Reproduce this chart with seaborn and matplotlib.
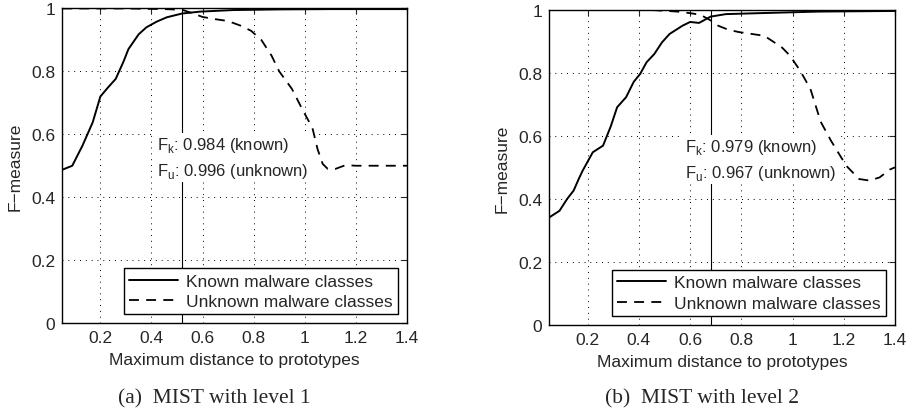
import numpy as np
import pandas as pd
import matplotlib
matplotlib.use("Agg")
import matplotlib.pyplot as plt
import seaborn as sns

# level 1 curves
l1_known_x = [0.05, 0.09, 0.13, 0.17, 0.2, 0.23, 0.26, 0.29, 0.31, 0.35, 0.38, 0.42, 0.46, 0.52, 0.59, 0.72, 0.9, 1.1, 1.4]
l1_known_y = [0.487, 0.50, 0.564, 0.638, 0.72, 0.749, 0.776, 0.83, 0.871, 0.918, 0.94, 0.958, 0.972, 0.984, 0.99, 0.995, 0.997, 0.998, 0.998]
l1_unknown_x = [0.05, 0.3, 0.45, 0.52, 0.56, 0.6, 0.65, 0.7, 0.75, 0.79, 0.83, 0.87, 0.9, 0.95, 0.99, 1.03,
                1.05, 1.07, 1.09, 1.12, 1.16, 1.2, 1.4]
l1_unknown_y = [1.0, 1.0, 0.998, 0.996, 0.985, 0.973, 0.966, 0.96, 0.945, 0.929, 0.9, 0.85, 0.80, 0.744, 0.68, 0.62,
                0.553, 0.506, 0.49, 0.49, 0.502, 0.50, 0.50]
l1_thresh = 0.52

# level 2 curves
l2_known_x = [0.05, 0.09, 0.12, 0.145, 0.165, 0.18, 0.22, 0.26, 0.29, 0.315, 0.35, 0.38, 0.405, 0.43, 0.46, 0.49,
              0.52, 0.57, 0.6, 0.635, 0.68, 0.74, 0.87, 1.1, 1.4]
l2_known_y = [0.341, 0.362, 0.40, 0.426, 0.463, 0.489, 0.548, 0.569, 0.63, 0.691, 0.723, 0.772, 0.797, 0.834, 0.86,
              0.897, 0.924, 0.95, 0.962, 0.959, 0.979, 0.987, 0.99, 0.995, 0.997]
l2_unknown_x = [0.05, 0.45, 0.55, 0.6, 0.64, 0.68, 0.71, 0.75, 0.79, 0.84, 0.89, 0.92, 0.96, 0.99, 1.03, 1.07,
                1.11, 1.15, 1.21, 1.26, 1.3, 1.34, 1.38, 1.4]
l2_unknown_y = [1.0, 1.0, 0.995, 0.99, 0.985, 0.967, 0.95, 0.937, 0.93, 0.924, 0.918, 0.902, 0.88, 0.855, 0.807,
                0.749, 0.645, 0.585, 0.505, 0.463, 0.458, 0.468, 0.493, 0.50]
l2_thresh = 0.68

annot = ["F$_\\mathrm{k}$: 0.984 (known)\nF$_\\mathrm{u}$: 0.996 (unknown)",
         "F$_\\mathrm{k}$: 0.979 (known)\nF$_\\mathrm{u}$: 0.967 (unknown)"]
captions = ["(a)  MIST with level 1", "(b)  MIST with level 2"]
xticks = [0.2, 0.4, 0.6, 0.8, 1, 1.2, 1.4]
yticks = [0, 0.2, 0.4, 0.6, 0.8, 1]

sns.set_style("white")
plt.rcParams["font.family"] = ["Liberation Sans", "DejaVu Sans"]
plt.rcParams["mathtext.fontset"] = "custom"
plt.rcParams["mathtext.rm"] = "Liberation Sans"
plt.rcParams["font.size"] = 12

fig = plt.figure(figsize=(9.07, 4.14), dpi=100)
ax1 = fig.add_axes([0.0684, 0.2174, 0.3803, 0.7597])
ax2 = fig.add_axes([0.6056, 0.2133, 0.3811, 0.7601])

panels = [
    (ax1, l1_known_x, l1_known_y, l1_unknown_x, l1_unknown_y, l1_thresh),
    (ax2, l2_known_x, l2_known_y, l2_unknown_x, l2_unknown_y, l2_thresh),
]

for i, (ax, kx, ky, ux, uy, th) in enumerate(panels):
    ax.axvline(th, color="k", lw=0.8, zorder=1)
    sns.lineplot(x=kx, y=ky, ax=ax, color="k", lw=1.4, label="Known malware classes", zorder=3)
    sns.lineplot(x=ux, y=uy, ax=ax, color="k", lw=1.3, linestyle=(0, (5.5, 4.0)),
                 label="Unknown malware classes", zorder=3)
    ax.text(th - 0.099, 0.525, annot[i], ha="left", va="center", fontsize=12, linespacing=1.5,
            bbox=dict(facecolor="white", edgecolor="none", pad=1.5), zorder=2)
    ax.set_xlim(0.05, 1.4)
    ax.set_ylim(0, 1)
    ax.set_xticks(xticks)
    ax.set_xticklabels(["0.2", "0.4", "0.6", "0.8", "1", "1.2", "1.4"])
    ax.set_yticks(yticks)
    ax.set_yticklabels(["0", "0.2", "0.4", "0.6", "0.8", "1"])
    ax.grid(True, color="k", lw=0.7, linestyle=(0, (1, 5)))
    ax.tick_params(direction="in", length=4, width=0.8, top=True, right=True, labelsize=12.5, pad=5)
    for s in ax.spines.values():
        s.set_color("k")
        s.set_linewidth(1.0)
    ax.set_xlabel("Maximum distance to prototypes", fontsize=12.5, labelpad=5)
    ax.set_ylabel("F\u2212measure", fontsize=12.5, labelpad=6)
    leg = ax.legend(loc="lower right", frameon=True, fancybox=False, framealpha=1, edgecolor="k",
                    handlelength=2.8, handletextpad=0.5, labelspacing=0.3, borderpad=0.3,
                    borderaxespad=0.5, fontsize=12.5)
    leg.get_frame().set_linewidth(1.0)
    fig.text([0.236, 0.7736][i], 0.036, captions[i], ha="center", va="center",
             family=["Liberation Serif", "DejaVu Serif"], fontsize=15.5)

fig.savefig("out.png", dpi=100)
